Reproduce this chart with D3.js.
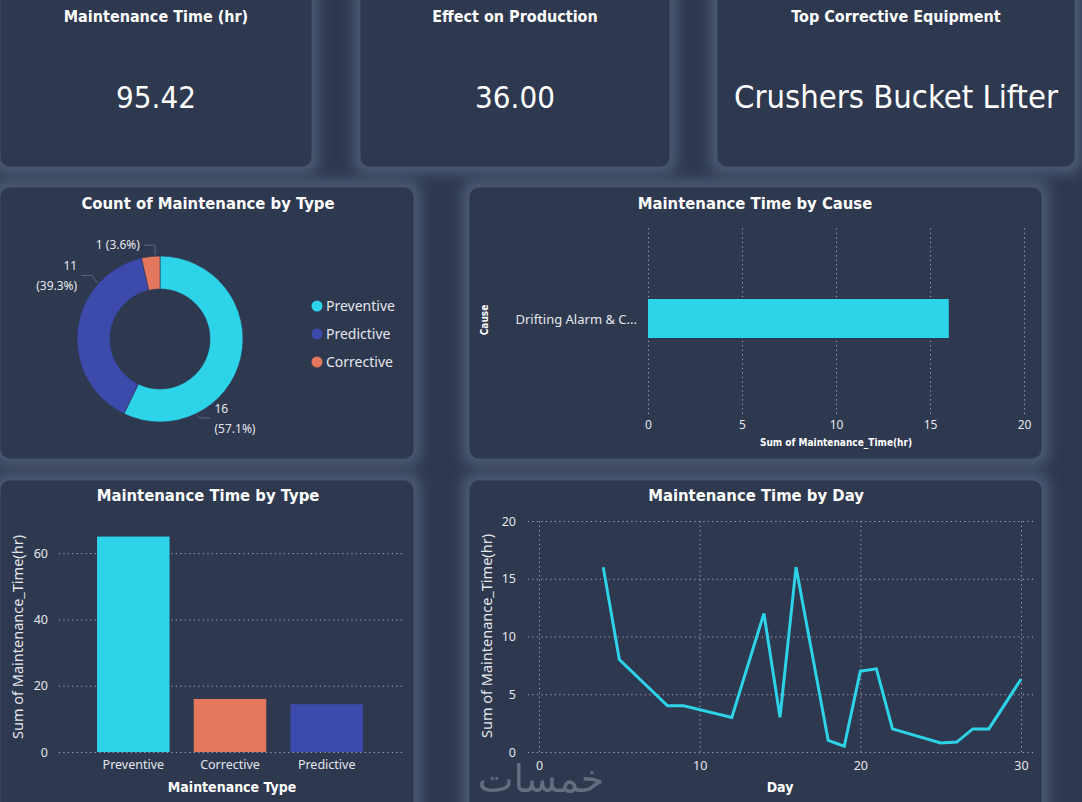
<!DOCTYPE html>
<html>
<head>
<meta charset="utf-8">
<script src="https://cdn.jsdelivr.net/npm/d3@7/dist/d3.min.js"></script>
<style>
  html, body { margin: 0; padding: 0; background: #2d3850; }
  svg { display: block; }
  .ttl { font-family: "DejaVu Sans Condensed", "DejaVu Sans", sans-serif; font-weight: bold; fill: #ffffff; }
  .txt { font-family: "Noto Sans", "Open Sans", sans-serif; fill: #e4e7ec; }
  .grid line { stroke: #a9afba; stroke-dasharray: 1.2,3.3; }
</style>
</head>
<body>
<div id="container"></div>
<script>
// ---- data ----
var kpiTitles = ["Maintenance Time (hr)", "Effect on Production", "Top Corrective Equipment"];
var kpiValues = ["95.42", "36.00", "Crushers Bucket Lifter"];

var typeNames = ["Preventive", "Predictive", "Corrective"];
var typeCounts = [16, 11, 1];

var timeTypes = ["Preventive", "Corrective", "Predictive"];
var timeByType = [65, 16, 14.42];

var causes = ["Drifting Alarm & C..."];
var causeTimes = [16];

var days = [4, 5, 8, 9, 12, 14, 15, 16, 18, 19, 20, 21, 22, 25, 26, 27, 28, 30];
var dayTimes = [16, 8, 4, 4, 3, 12, 3, 16, 1, 0.5, 7, 7.2, 2, 0.78, 0.86, 2, 2, 6.3];

var typeTicks = [0, 20, 40, 60];
var causeTicks = [0, 5, 10, 15, 20];
var dayXTicks = [0, 10, 20, 30];
var dayYTicks = [0, 5, 10, 15, 20];

var colorOf = {Preventive: "#2dd3e8", Predictive: "#3c4aab", Corrective: "#e5775f"};

var width = 1082, height = 802;

var svg = d3.select("#container").append("svg")
  .attr("width", width)
  .attr("height", height);

// light glow behind the panels
var defs = svg.append("defs");
var glow = defs.append("filter").attr("id", "glow")
  .attr("x", "-20%").attr("y", "-20%").attr("width", "140%").attr("height", "140%");
glow.append("feMorphology").attr("in", "SourceAlpha").attr("operator", "dilate").attr("radius", 6).attr("result", "d");
glow.append("feGaussianBlur").attr("in", "d").attr("stdDeviation", 7).attr("result", "b");
glow.append("feFlood").attr("flood-color", "#55627c").attr("flood-opacity", 0.85);
glow.append("feComposite").attr("in2", "b").attr("operator", "in").attr("result", "g");
var mrg = glow.append("feMerge");
mrg.append("feMergeNode").attr("in", "g");
mrg.append("feMergeNode").attr("in", "SourceGraphic");

svg.append("rect").attr("width", width).attr("height", height).attr("fill", "#2d3850");

var panels = [
  {x: 0, y: -12, w: 312, h: 179},
  {x: 360, y: -12, w: 310, h: 179},
  {x: 717, y: -12, w: 358, h: 179},
  {x: 0, y: 187, w: 414, h: 272},
  {x: 469, y: 187, w: 573, h: 272},
  {x: 0, y: 480, w: 414, h: 340},
  {x: 469, y: 480, w: 573, h: 340}
];

svg.append("g").selectAll("rect")
  .data(panels).enter()
  .append("rect")
    .attr("x", function(d) { return d.x; })
    .attr("y", function(d) { return d.y; })
    .attr("width", function(d) { return d.w; })
    .attr("height", function(d) { return d.h; })
    .attr("rx", 10)
    .attr("fill", "#2d3850")
    .attr("stroke", "#46526b")
    .attr("stroke-width", 1)
    .attr("filter", "url(#glow)");

// ---- KPI cards ----
var kpiCenters = [156, 515, 896];
kpiTitles.forEach(function(t, i) {
  svg.append("text").attr("class", "ttl")
    .attr("x", kpiCenters[i]).attr("y", 22)
    .attr("text-anchor", "middle")
    .style("font-size", "16px")
    .text(t);
  svg.append("text")
    .attr("x", kpiCenters[i]).attr("y", 108)
    .attr("text-anchor", "middle")
    .style("font-family", "'DejaVu Sans Condensed', 'DejaVu Sans', sans-serif")
    .style("font-size", i == 2 ? "32.5px" : "31px")
    .style("fill", "#ffffff")
    .text(kpiValues[i]);
});

function title(x, y, t) {
  svg.append("text").attr("class", "ttl")
    .attr("x", x).attr("y", y)
    .attr("text-anchor", "middle")
    .style("font-size", "16.5px")
    .text(t);
}

// ---- donut ----
title(208, 209, "Count of Maintenance by Type");

var cx = 160, cy = 339, rOut = 83, rIn = 50;
var total = d3.sum(typeCounts);
var pie = d3.pie().sort(null).value(function(d) { return d; });
var arcs = pie(typeCounts);
var arc = d3.arc().innerRadius(rIn).outerRadius(rOut);

var donut = svg.append("g").attr("transform", "translate(" + cx + "," + cy + ")");
donut.selectAll("path")
  .data(arcs).enter()
  .append("path")
    .attr("d", arc)
    .attr("fill", function(d, i) { return colorOf[typeNames[i]]; })
    .attr("stroke", "#2d3850")
    .attr("stroke-width", 0.6);

var pct = d3.format(".1%");
arcs.forEach(function(a, i) {
  var ang = a.startAngle + 0.75 * (a.endAngle - a.startAngle);
  var s = Math.sin(ang), c = -Math.cos(ang);
  var p0 = [s * (rOut + 1), c * (rOut + 1)];
  var p1 = [s * (rOut + 8), c * (rOut + 8)];
  var dir = s >= 0 ? 1 : -1;
  var p2 = [p1[0] + dir * 11, p1[1] - 3];
  p1[1] -= 3;
  donut.append("polyline")
    .attr("points", [p0, p1, p2].map(function(p) { return p.join(","); }).join(" "))
    .attr("fill", "none")
    .attr("stroke", "#5e6a82")
    .attr("stroke-width", 1);
  var lbl = donut.append("text").attr("class", "txt")
    .attr("text-anchor", dir > 0 ? "start" : "end")
    .style("font-size", "12px");
  var tx = p2[0] + dir * 4;
  var share = a.data / total;
  if (share < 0.05) {
    lbl.append("tspan").attr("x", tx).attr("y", p2[1] + 4)
      .text(a.data + " (" + pct(share) + ")");
  } else {
    lbl.append("tspan").attr("x", tx).attr("y", p2[1] - 5).text(a.data);
    lbl.append("tspan").attr("x", tx).attr("y", p2[1] + 15).text("(" + pct(share) + ")");
  }
});

var legend = svg.selectAll(".legend")
  .data(typeNames).enter()
  .append("g")
    .attr("class", "legend")
    .attr("transform", function(d, i) { return "translate(317," + (306 + i * 28) + ")"; });
legend.append("circle").attr("r", 5.5).attr("fill", function(d) { return colorOf[d]; });
legend.append("text").attr("class", "txt")
  .attr("x", 9).attr("y", 5)
  .style("font-size", "14px")
  .text(function(d) { return d; });

// ---- Maintenance Time by Cause ----
title(755, 209, "Maintenance Time by Cause");

var xc = d3.scaleLinear().domain([0, 20]).range([648, 1024]);
var yc = d3.scaleBand().domain(causes).range([226, 414]).paddingInner(0).paddingOuter(1.91);

svg.append("g").attr("class", "grid")
  .attr("transform", "translate(0,414)")
  .call(d3.axisBottom(xc).tickValues(causeTicks).tickSize(-188).tickFormat(""))
  .call(function(g) { g.select(".domain").remove(); });

svg.selectAll(".cbar")
  .data(causeTimes).enter()
  .append("rect").attr("class", "cbar")
    .attr("x", xc(0))
    .attr("y", function(d, i) { return yc(causes[i]) - 1.5; })
    .attr("width", function(d) { return xc(d) - xc(0); })
    .attr("height", yc.bandwidth())
    .attr("fill", colorOf.Preventive);

svg.append("g")
  .attr("transform", "translate(0,414)")
  .call(d3.axisBottom(xc).tickValues(causeTicks).tickSize(0).tickPadding(6))
  .call(function(g) {
    g.select(".domain").remove();
    g.selectAll("text").attr("class", "txt").style("font-size", "12px").attr("fill", null);
  });

svg.append("g")
  .attr("transform", "translate(637,0)")
  .call(d3.axisLeft(yc).tickSize(0).tickPadding(0))
  .call(function(g) {
    g.select(".domain").remove();
    g.selectAll("text").attr("class", "txt").style("font-size", "13px").attr("fill", null);
  });

svg.append("text").attr("class", "ttl")
  .attr("x", 836).attr("y", 446)
  .attr("text-anchor", "middle")
  .style("font-size", "10px")
  .text("Sum of Maintenance_Time(hr)");

svg.append("text").attr("class", "ttl")
  .attr("transform", "translate(488,320) rotate(-90)")
  .attr("text-anchor", "middle")
  .style("font-size", "10px")
  .text("Cause");

// ---- Maintenance Time by Type ----
title(208, 501, "Maintenance Time by Type");

var xt = d3.scaleBand().domain(timeTypes).range([85, 375]).paddingInner(0.25).paddingOuter(0.125);
var yt = d3.scaleLinear().domain([0, 70]).range([752, 520]);

svg.append("g").attr("class", "grid")
  .attr("transform", "translate(58,0)")
  .call(d3.axisLeft(yt).tickValues(typeTicks).tickSize(-344).tickFormat(""))
  .call(function(g) { g.select(".domain").remove(); g.selectAll("line").attr("transform", "scale(-1,1) translate(-344,0)"); });

svg.selectAll(".tbar")
  .data(timeByType).enter()
  .append("rect").attr("class", "tbar")
    .attr("x", function(d, i) { return xt(timeTypes[i]); })
    .attr("y", function(d) { return yt(d); })
    .attr("width", xt.bandwidth())
    .attr("height", function(d) { return yt(0) - yt(d); })
    .attr("fill", function(d, i) { return colorOf[timeTypes[i]]; });

svg.append("g")
  .attr("transform", "translate(48,0)")
  .call(d3.axisLeft(yt).tickValues(typeTicks).tickSize(0).tickPadding(0))
  .call(function(g) {
    g.select(".domain").remove();
    g.selectAll("text").attr("class", "txt").style("font-size", "12.5px").attr("fill", null);
  });

svg.append("g")
  .attr("transform", "translate(0,752)")
  .call(d3.axisBottom(xt).tickSize(0).tickPadding(8))
  .call(function(g) {
    g.select(".domain").remove();
    g.selectAll("text").attr("class", "txt").style("font-size", "12.5px").attr("fill", null);
  });

svg.append("text").attr("class", "ttl")
  .attr("x", 232).attr("y", 792)
  .attr("text-anchor", "middle")
  .style("font-size", "14px")
  .text("Maintenance Type");

svg.append("text").attr("class", "txt")
  .attr("transform", "translate(23,637) rotate(-90)")
  .attr("text-anchor", "middle")
  .style("font-size", "14.5px")
  .text("Sum of Maintenance_Time(hr)");

// ---- Maintenance Time by Day ----
title(756, 501, "Maintenance Time by Day");

var xd = d3.scaleLinear().domain([0, 30]).range([539, 1021]);
var yd = d3.scaleLinear().domain([0, 20]).range([752, 521]);

svg.append("g").attr("class", "grid")
  .attr("transform", "translate(0,752)")
  .call(d3.axisBottom(xd).tickValues(dayXTicks).tickSize(-231).tickFormat(""))
  .call(function(g) { g.select(".domain").remove(); });

svg.append("g").attr("class", "grid")
  .attr("transform", "translate(1033,0)")
  .call(d3.axisLeft(yd).tickValues(dayYTicks).tickSize(506).tickFormat(""))
  .call(function(g) { g.select(".domain").remove(); });

// watermark
svg.append("text")
  .attr("x", 541).attr("y", 792)
  .attr("text-anchor", "middle")
  .style("font-family", "'DejaVu Sans', sans-serif")
  .style("font-size", "38px")
  .style("fill", "#7d8596")
  .style("opacity", 0.7)
  .text("خمسات");

var line = d3.line()
  .x(function(d, i) { return xd(days[i]); })
  .y(function(d) { return yd(d); });

svg.append("path")
  .datum(dayTimes)
  .attr("d", line)
  .attr("fill", "none")
  .attr("stroke", colorOf.Preventive)
  .attr("stroke-width", 3)
  .attr("stroke-linejoin", "miter");

svg.append("g")
  .attr("transform", "translate(516,0)")
  .call(d3.axisLeft(yd).tickValues(dayYTicks).tickSize(0).tickPadding(0))
  .call(function(g) {
    g.select(".domain").remove();
    g.selectAll("text").attr("class", "txt").style("font-size", "12.5px").attr("fill", null);
  });

svg.append("g")
  .attr("transform", "translate(0,752)")
  .call(d3.axisBottom(xd).tickValues(dayXTicks).tickSize(0).tickPadding(9))
  .call(function(g) {
    g.select(".domain").remove();
    g.selectAll("text").attr("class", "txt").style("font-size", "12.5px").attr("fill", null);
  });

svg.append("text").attr("class", "ttl")
  .attr("x", 780).attr("y", 792)
  .attr("text-anchor", "middle")
  .style("font-size", "14px")
  .text("Day");

svg.append("text").attr("class", "txt")
  .attr("transform", "translate(492,636) rotate(-90)")
  .attr("text-anchor", "middle")
  .style("font-size", "14.5px")
  .text("Sum of Maintenance_Time(hr)");
</script>
</body>
</html>
